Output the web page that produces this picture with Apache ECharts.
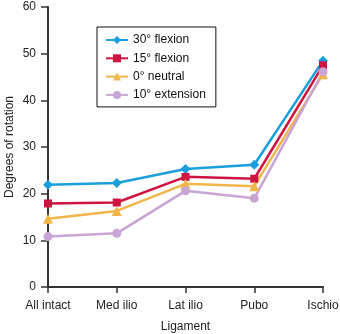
<!DOCTYPE html>
<html><head><meta charset="utf-8">
<script src="https://cdn.jsdelivr.net/npm/echarts@6/dist/echarts.min.js"></script>
<style>html,body{margin:0;padding:0;background:#fff}#c{width:340px;height:334px}</style>
</head><body><div id="c"></div>
<script>
const categories = ["All intact", "Med ilio", "Lat ilio", "Pubo", "Ischio"];
const seriesNames = ["30° flexion", "15° flexion", "0° neutral", "10° extension"];
const flex30 = [21.9, 22.3, 25.3, 26.2, 48.5];
const flex15 = [17.9, 18.1, 23.6, 23.2, 47.5];
const neutral0 = [14.6, 16.3, 22.1, 21.6, 45.6];
const ext10 = [10.8, 11.5, 20.6, 19.0, 46.1];
const yTicks = [0, 10, 20, 30, 40, 50, 60];

const colors = ["#1a9fdc", "#cf1442", "#f0b64a", "#c8a5d5"];
const symbols = ["diamond", "rect", "triangle", "circle"];
const sizes = [10, 8, 10, 9];
const dataList = [flex30, flex15, neutral0, ext10];

const chart = echarts.init(document.getElementById('c'), null, {renderer: 'canvas'});
const font = 'Liberation Sans, Arial, Helvetica, sans-serif';
chart.setOption({
  animation: false,
  textStyle: {fontFamily: font},
  grid: {left: 48, right: 17, top: 7, bottom: 47, containLabel: false, outerBoundsMode: 'none'},
  legend: {
    orient: 'vertical',
    left: 97, top: 27,
    width: 120,
    padding: [7, 10, 6, 8],
    itemGap: 6.3,
    itemWidth: 22, itemHeight: 10,
    borderColor: '#111', borderWidth: 1,
    textStyle: {fontFamily: font, fontSize: 12, color: '#111'},
    data: seriesNames
  },
  xAxis: {
    type: 'category',
    data: categories,
    boundaryGap: false,
    name: 'Ligament',
    nameLocation: 'middle',
    nameGap: 34,
    nameMoveOverlap: false,
    nameTextStyle: {fontSize: 12, color: '#222'},
    axisLine: {lineStyle: {color: '#333', width: 2}},
    axisTick: {alignWithLabel: true, length: 6, lineStyle: {color: '#333', width: 1.5}},
    axisLabel: {fontSize: 12, color: '#222', margin: 13}
  },
  yAxis: {
    type: 'value',
    min: yTicks[0], max: yTicks[yTicks.length - 1], interval: 10,
    name: 'Degrees of rotation',
    nameLocation: 'middle',
    nameGap: 32,
    nameMoveOverlap: false,
    nameTextStyle: {fontSize: 12, color: '#222'},
    axisLine: {show: true, lineStyle: {color: '#333', width: 2}},
    axisTick: {show: true, length: 7, lineStyle: {color: '#333', width: 1.5}},
    axisLabel: {fontSize: 12, color: '#222', margin: 12},
    splitLine: {show: false}
  },
  series: seriesNames.map((n, i) => ({
    name: n,
    type: 'line',
    data: dataList[i],
    symbol: symbols[i],
    symbolSize: sizes[i],
    showAllSymbol: true,
    lineStyle: {color: colors[i], width: 2.5},
    itemStyle: {color: colors[i]}
  }))
});
</script></body></html>
